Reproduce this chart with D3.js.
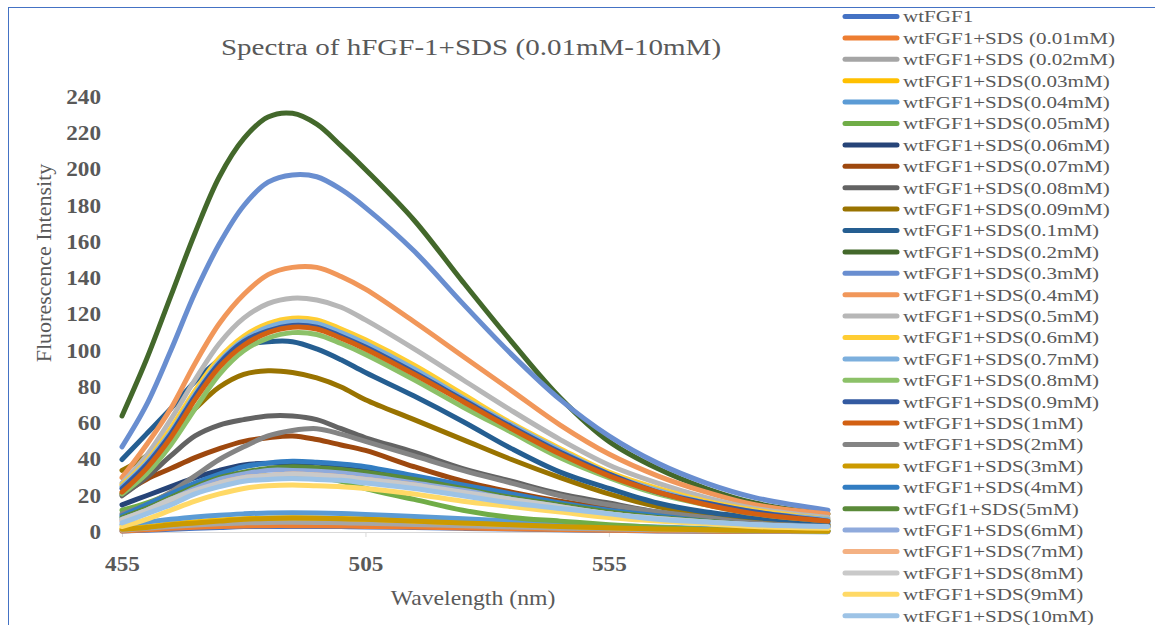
<!DOCTYPE html>
<html>
<head>
<meta charset="utf-8">
<script src="https://cdn.jsdelivr.net/npm/d3@7"></script>
<style>
  body { margin: 0; background: #fff; }
  text { font-family: "Liberation Serif", "Times New Roman", serif; fill: #595959; }
</style>
</head>
<body>
<svg id="chart" width="1155" height="625"></svg>
<script>
// wavelengths sampled from the spectra (nm)
const wavelengths = [455, 460, 465, 470, 475, 480, 485, 490, 495, 500, 505, 515, 525, 535, 545, 555, 565, 575, 585, 600];

const seriesNames = [
  "wtFGF1", "wtFGF1+SDS (0.01mM)", "wtFGF1+SDS (0.02mM)", "wtFGF1+SDS(0.03mM)",
  "wtFGF1+SDS(0.04mM)", "wtFGF1+SDS(0.05mM)", "wtFGF1+SDS(0.06mM)", "wtFGF1+SDS(0.07mM)",
  "wtFGF1+SDS(0.08mM)", "wtFGF1+SDS(0.09mM)", "wtFGF1+SDS(0.1mM)", "wtFGF1+SDS(0.2mM)",
  "wtFGF1+SDS(0.3mM)", "wtFGF1+SDS(0.4mM)", "wtFGF1+SDS(0.5mM)", "wtFGF1+SDS(0.6mM)",
  "wtFGF1+SDS(0.7mM)", "wtFGF1+SDS(0.8mM)", "wtFGF1+SDS(0.9mM)", "wtFGF1+SDS(1mM)",
  "wtFGF1+SDS(2mM)", "wtFGF1+SDS(3mM)", "wtFGF1+SDS(4mM)", "wtFGf1+SDS(5mM)",
  "wtFGF1+SDS(6mM)", "wtFGF1+SDS(7mM)", "wtFGF1+SDS(8mM)", "wtFGF1+SDS(9mM)",
  "wtFGF1+SDS(10mM)"
];

const seriesColors = [
  "#4472C4", "#ED7D31", "#A5A5A5", "#FFC000", "#5B9BD5", "#70AD47", "#264478", "#9E480E",
  "#636363", "#997300", "#255E91", "#43682B", "#698ED0", "#F1975A", "#B7B7B7", "#FFCD33",
  "#7CAFDD", "#8CC168", "#335AA1", "#D26012", "#848484", "#CC9A00", "#327DC2", "#5A8A39",
  "#8FAADC", "#F4B183", "#C9C9C9", "#FFD966", "#9DC3E6"
];

// intensities, one row per series
const intensities = [
  [0.5, 1, 1.5, 2, 2.5, 3, 3, 3, 3, 3, 2.8, 2.5, 2, 1.6, 1.2, 0.9, 0.6, 0.4, 0.3, 0.2],
  [0.5, 1.2, 2, 2.6, 3, 3.3, 3.5, 3.5, 3.4, 3.3, 3.1, 2.7, 2.2, 1.8, 1.4, 1, 0.7, 0.5, 0.4, 0.3],
  [1, 2, 3, 3.8, 4.5, 5, 5.3, 5.4, 5.3, 5.1, 4.8, 4.2, 3.5, 2.8, 2.1, 1.6, 1.2, 0.9, 0.6, 0.4],
  [2, 3, 4.5, 5.6, 6.6, 7.3, 7.7, 7.8, 7.7, 7.4, 7, 6.1, 5.1, 4.1, 3.2, 2.4, 1.8, 1.3, 1, 0.6],
  [4, 5.5, 7, 8.3, 9.3, 10, 10.5, 10.6, 10.5, 10.2, 9.7, 8.6, 7.3, 6, 4.7, 3.6, 2.7, 2, 1.5, 1],
  [12, 16, 21, 25, 28, 30, 31, 31, 30, 28, 24, 18, 12, 8, 6, 4, 2.5, 1.5, 1, 0.5],
  [15, 20, 25, 30, 34, 37, 38, 38, 38, 36, 34, 29, 24, 19, 14, 11, 8, 6, 4, 3],
  [21, 29, 35, 41, 46, 50, 52, 53, 51, 48, 45, 36, 28, 22, 17, 13, 10, 7, 5, 3],
  [20, 30, 42, 53, 59, 62, 64, 64, 62, 57, 52, 44, 35, 28, 21, 16, 11, 8, 6, 4],
  [34, 42, 55, 68, 80, 87, 89, 88, 85, 80, 73, 62, 51, 40, 30, 21, 14, 10, 7, 4],
  [40, 54, 68, 83, 95, 103, 105, 105, 101, 95, 88, 75, 61, 46, 33, 24, 16, 11, 8, 5],
  [64, 95, 130, 165, 196, 217, 229, 231, 225, 213, 200, 172, 138, 105, 74, 50, 35, 24, 16, 10],
  [47, 70, 100, 132, 159, 180, 193, 197, 196, 189, 179, 155, 126, 98, 73, 53, 38, 27, 19, 12],
  [30, 48, 68, 93, 115, 131, 142, 146, 146, 141, 134, 116, 97, 78, 59, 43, 31, 22, 15, 10],
  [27, 42, 62, 84, 104, 118, 126, 129, 128, 124, 117, 101, 84, 67, 51, 37, 27, 19, 13, 8],
  [26, 39, 57, 78, 96, 108, 115, 118, 117, 112, 106, 92, 76, 60, 46, 33, 24, 17, 12, 7],
  [25, 38, 55, 76, 94, 106, 113, 116, 115, 110, 104, 90, 74, 59, 45, 32, 23, 16, 11, 7],
  [21, 32, 48, 68, 87, 100, 107, 110, 109, 104, 98, 84, 69, 55, 41, 30, 21, 15, 10, 6],
  [24, 37, 54, 75, 93, 105, 111, 114, 113, 108, 102, 88, 73, 58, 44, 32, 22, 16, 11, 6],
  [22, 35, 52, 73, 91, 103, 110, 113, 112, 107, 101, 87, 72, 57, 43, 31, 22, 15, 10, 6],
  [10, 15, 22, 31, 40, 47, 53, 56, 57, 54, 50, 42, 34, 27, 20, 15, 11, 8, 5, 3],
  [1.5, 2.5, 4, 5, 6, 7, 7.5, 7.7, 7.6, 7.3, 7, 6, 5, 4, 3.1, 2.3, 1.7, 1.2, 0.9, 0.6],
  [9, 15, 21, 27, 32, 36, 38, 39, 38.5, 37.5, 36, 31, 26, 21, 16, 12, 9, 6, 4, 3],
  [8, 13, 19, 25, 30, 33, 35, 36, 35.5, 34.5, 33, 29, 24, 19, 15, 11, 8, 6, 4, 2.5],
  [7, 12, 18, 24, 29, 32, 34, 34, 33.5, 32.5, 31, 27, 23, 18, 14, 10, 7.5, 5.5, 4, 2.5],
  [6, 11, 17, 22, 27, 30, 31, 32, 31.5, 30.5, 29, 26, 21, 17, 13, 10, 7, 5, 3.5, 2.5],
  [7, 12, 18, 23, 27, 30, 31, 32, 31.5, 30.5, 29, 26, 22, 18, 14, 10, 7.5, 5.5, 4, 2.5],
  [3, 7, 12, 17, 21, 24, 25.5, 26, 25.5, 25, 24, 21, 17, 14, 11, 8, 6, 4.5, 3, 2],
  [5, 10, 15, 21, 25, 28, 29, 29.5, 29, 28.5, 27, 24, 20, 16, 13, 10, 7, 5.5, 4, 3]
];

const xTicks = [455, 505, 555];
const yTicks = [0, 20, 40, 60, 80, 100, 120, 140, 160, 180, 200, 220, 240];

// the original picture is a bit wider than tall, so texts are stretched sideways
const textStretch = 1.16;

const svg = d3.select("#chart");

// frame
svg.append("rect")
  .attr("x", 8.5).attr("y", 7.5)
  .attr("width", 1170).attr("height", 640)
  .attr("fill", "none")
  .attr("stroke", "#4472C4");

const x = d3.scaleLinear().domain([455, 600]).range([122, 828]);
const y = d3.scaleLinear().domain([0, 240]).range([532, 97]);

// axes
const xAxis = svg.append("g")
  .attr("transform", `translate(0,${y(0)})`)
  .call(d3.axisBottom(x).tickValues(xTicks).tickSize(5).tickSizeOuter(0).tickPadding(20));
xAxis.select(".domain").attr("stroke", "#D9D9D9");
xAxis.selectAll(".tick line").attr("stroke", "#D9D9D9");
xAxis.selectAll("text")
  .attr("font-size", 20).attr("font-weight", "bold")
  .attr("font-family", null).attr("fill", null)
  .attr("transform", `scale(${textStretch},1)`);

const yAxis = svg.append("g")
  .attr("transform", `translate(${x(455)},0)`)
  .call(d3.axisLeft(y).tickValues(yTicks).tickSize(0).tickPadding(21));
yAxis.select(".domain").remove();
yAxis.selectAll("text")
  .attr("font-size", 20).attr("font-weight", "bold")
  .attr("font-family", null).attr("fill", null)
  .attr("x", -21 / textStretch)
  .attr("transform", `scale(${textStretch},1)`);

// spectra
const line = d3.line()
  .x((d, i) => x(wavelengths[i]))
  .y(d => y(d))
  .curve(d3.curveCatmullRom.alpha(0.5));

svg.append("g")
  .selectAll("path")
  .data(intensities)
  .join("path")
  .attr("d", line)
  .attr("fill", "none")
  .attr("stroke", (d, i) => seriesColors[i])
  .attr("stroke-width", 5)
  .attr("stroke-linecap", "round")
  .attr("stroke-linejoin", "round");

// titles
svg.append("text")
  .attr("transform", "translate(471,55) scale(1.21,1)")
  .attr("text-anchor", "middle")
  .attr("font-size", 24)
  .text("Spectra of hFGF-1+SDS (0.01mM-10mM)");

svg.append("text")
  .attr("transform", "translate(473,605) scale(1.13,1)")
  .attr("text-anchor", "middle")
  .attr("font-size", 21)
  .text("Wavelength (nm)");

svg.append("text")
  .attr("transform", "translate(51,263) rotate(-90)")
  .attr("text-anchor", "middle")
  .attr("font-size", 22)
  .text("Fluorescence Intensity");

// legend
const legend = svg.append("g")
  .selectAll("g")
  .data(seriesNames)
  .join("g")
  .attr("transform", (d, i) => `translate(843,${16.5 + i * 21.4})`);

legend.append("line")
  .attr("x1", 2).attr("x2", 54)
  .attr("stroke", (d, i) => seriesColors[i])
  .attr("stroke-width", 5)
  .attr("stroke-linecap", "round");

legend.append("text")
  .attr("transform", "translate(60,0) scale(1.24,1)")
  .attr("dy", "0.35em")
  .attr("font-size", 17)
  .text(d => d);
</script>
</body>
</html>
